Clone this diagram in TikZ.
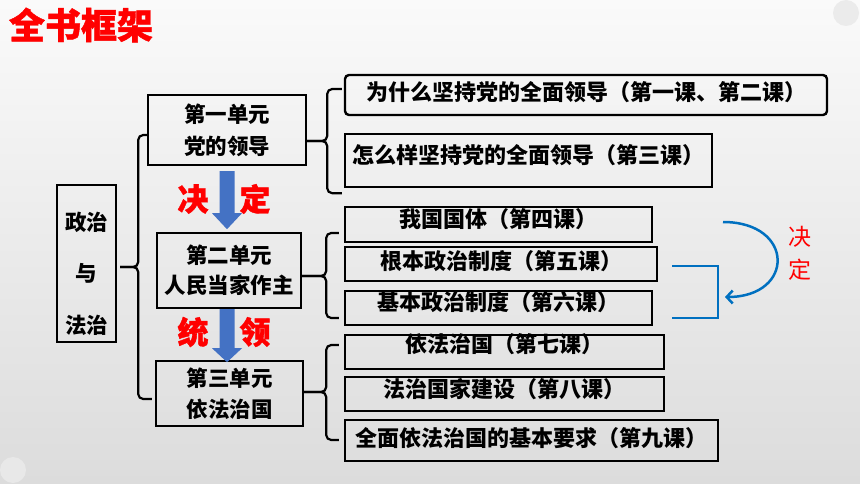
\documentclass[tikz,border=0pt]{standalone}
\usepackage{fontspec}
\setmainfont{Noto Sans CJK SC}
\newfontfamily\heavyfont{Noto Sans CJK SC}[FakeBold=1.2]
\usetikzlibrary{arrows.meta,calc}
\definecolor{tred}{HTML}{FF0000}
\definecolor{arrblue}{HTML}{4472C4}
\definecolor{lineblue}{HTML}{0070C0}
\definecolor{bgtop}{HTML}{FAFAFA}
\definecolor{bgmid}{HTML}{F2F2F2}
\definecolor{bgbot}{HTML}{DCDCDC}
\newcommand\blockarrow[3]{\fill[arrblue] ($(#1)+(-7.5,0)$) -- ($(#1)+(7.5,0)$) -- ($(#1)+(7.5,#2)$) -- ($(#1)+(15,#2)$) -- ($(#1)+(0,#3)$) -- ($(#1)+(-15,#2)$) -- ($(#1)+(-7.5,#2)$) -- cycle;}
\begin{document}
\begin{tikzpicture}[x=1pt,y=-1pt,
  ubox/.style={draw=black, line width=2.4pt, inner sep=0pt, align=center},
  rbox/.style={draw=black, line width=2.4pt, inner sep=0pt},
  rt/.style={inner sep=0pt, font=\bfseries\fontsize{22}{26}\selectfont},
  brk/.style={draw=black, line width=2.2pt, rounded corners=5pt},
  bigred/.style={inner sep=0pt, text=tred, font=\heavyfont\bfseries\fontsize{31}{31}\selectfont},
  smallred/.style={inner sep=0pt, text=tred, font=\fontsize{23}{23}\selectfont},
  blueline/.style={draw=lineblue, line width=2.5pt}]
\useasboundingbox (0,0) rectangle (860,484);
\shade[top color=bgtop, middle color=bgmid, bottom color=bgbot] (0,0) rectangle (860,484);
\fill[black!8] (846,13) circle (13);
\fill[black!9] (13,470) circle (13);

% title
\node[inner sep=0pt, text=tred, font=\heavyfont\bfseries\fontsize{36}{36}\selectfont] (title) at (81,25) {全书框架};

% left box
\node[ubox, minimum width=59pt, minimum height=157pt] (L) at (86.5,263.5) {};
\node[inner sep=0pt, align=center, font=\bfseries\fontsize{21.5}{51.5}\selectfont] (Lt) at ([yshift=-10pt]L.center) {政治\\与\\法治};

% units
\node[ubox, minimum width=158pt, minimum height=70pt, font=\bfseries\fontsize{21.5}{32}\selectfont] (u1) at (227,130) {第一单元\\党的领导};
\node[ubox, minimum width=144pt, minimum height=75pt, font=\bfseries\fontsize{21.5}{30.5}\selectfont] (u2) at (229,270.5) {第二单元\\人民当家作主};
\node[ubox, minimum width=147pt, minimum height=65pt, font=\bfseries\fontsize{21.5}{31}\selectfont] (u3) at (229.5,393.5) {第三单元\\依法治国};

% right boxes
\node[rbox, rounded corners=4pt, minimum width=482pt, minimum height=40pt] (bA) at (586,95) {};
\node[rbox, minimum width=367pt, minimum height=53pt] (bB) at (528.5,160.5) {};
\node[rbox, minimum width=307pt, minimum height=35pt] (b4) at (498.5,224.5) {};
\node[rbox, minimum width=312pt, minimum height=34pt] (b5) at (501,264) {};
\node[rbox, minimum width=307pt, minimum height=34pt] (b6) at (498.5,308) {};
\node[rbox, minimum width=319pt, minimum height=34pt] (b7) at (504.5,352) {};
\node[rbox, minimum width=319pt, minimum height=34pt] (b8) at (504.5,394) {};
\node[rbox, minimum width=373pt, minimum height=41pt] (b9) at (531.5,440.5) {};

\node[rt] (tA) at ([yshift=3pt]bA.center) {为什么坚持党的全面领导（第一课、第二课）};
\node[rt] (tB) at ([yshift=5.5pt]bB.center) {怎么样坚持党的全面领导（第三课）};
\node[rt] (t4) at ([yshift=5.5pt]b4.center) {我国国体（第四课）};
\node[rt] (t5) at ([yshift=3pt]b5.center) {根本政治制度（第五课）};
\node[rt] (t6) at ([yshift=6pt]b6.center) {基本政治制度（第六课）};
\node[rt] (t7) at ([yshift=8pt]b7.center) {依法治国（第七课）};
\node[rt] (t8) at ([yshift=5pt]b8.center) {法治国家建设（第八课）};
\node[rt] (t9) at ([yshift=2.5pt]b9.center) {全面依法治国的基本要求（第九课）};

% brackets
\draw[brk] ([xshift=3pt,yshift=-3.5pt]L.east) -- ++(18,0) |- ([xshift=2pt,yshift=-5pt]u1.west);
\draw[brk] ([xshift=3pt,yshift=-3.5pt]L.east) -- ++(18,0) |- ([xshift=-3pt,yshift=-5.5pt]u3.west);

\draw[brk] ([yshift=-11pt]u1.east) -- ++(20,0) |- ([xshift=-2pt,yshift=6pt]bA.west);
\draw[brk] ([yshift=-11pt]u1.east) -- ++(20,0) |- ([xshift=-2pt,yshift=-5pt]bB.south west);

\draw[brk] ([yshift=-5.5pt]u2.east) -- ++(24,0) |- ([xshift=-5pt,yshift=-8.5pt]b4.west);
\draw[brk] ([yshift=-5.5pt]u2.east) -- ++(24,0) |- ([xshift=-5pt,yshift=-10pt]b6.west);

\draw[brk] ([yshift=1.5pt]u3.east) -- ++(22,0) |- ([xshift=-5pt,yshift=7pt]b7.west);
\draw[brk] ([yshift=1.5pt]u3.east) -- ++(22,0) |- ([xshift=-5pt,yshift=0.5pt]b9.west);

% block arrows
\coordinate (a1t) at ($(u1.south)+(0,5)$);
\coordinate (a2t) at ($(u2.south)+(-2,0)$);
\blockarrow{a1t}{42}{58}
\blockarrow{a2t}{39}{53}
\node[bigred] (jue) at (193,199) {决};
\node[bigred] (ding) at (255,199) {定};
\node[bigred] (tong) at (193,332) {统};
\node[bigred] (ling) at (255,332) {领};

% blue bracket and curved arrow
\coordinate (bq1) at (672,266);
\coordinate (bq2) at (672,318);
\draw[blueline] (bq1) -- ++(46,0) |- (bq2);
\coordinate (arcS) at (723,222);
\coordinate (arcE) at (725,297);
\draw[blueline, -{Straight Barb[length=6pt,width=13pt]}] (arcS) .. controls (795,222) and (795,297) .. (arcE);
\node[smallred] (jue2) at (800,237) {决};
\node[smallred] (ding2) at (800,270) {定};
\end{tikzpicture}
\end{document}
